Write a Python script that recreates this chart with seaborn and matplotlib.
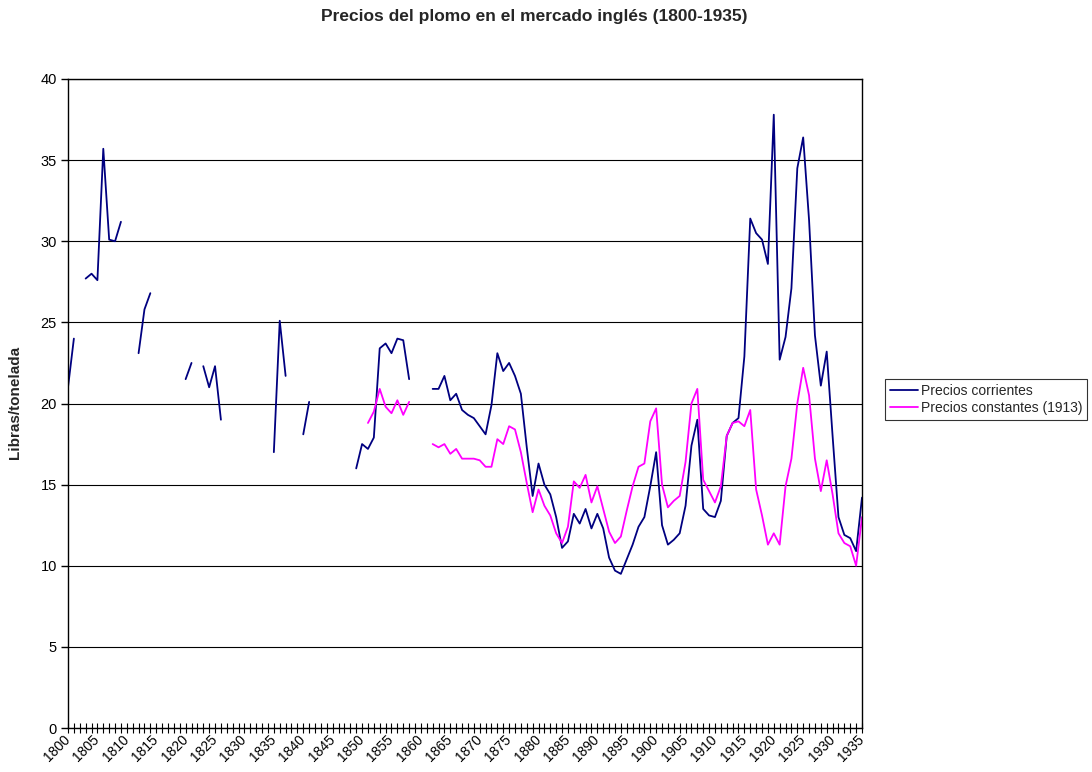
import numpy as np
import pandas as pd
import matplotlib
matplotlib.use('Agg')
import matplotlib.pyplot as plt
import seaborn as sns

#^ Data ============================================================================================>
nan = np.nan
years = list(range(1800, 1936))

# precios corrientes, 1800-1935 (libras/tonelada)
corrientes = [
    21.0, 24.0, nan, 27.7, 28.0, 27.6, 35.7, 30.1, 30.0, 31.2,          # 1800-1809
    nan, nan, 23.1, 25.8, 26.8, nan, nan, nan, nan, nan,                # 1810-1819
    21.5, 22.5, nan, 22.3, 21.0, 22.3, 19.0, nan, nan, nan,             # 1820-1829
    nan, nan, nan, nan, nan, 17.0, 25.1, 21.7, nan, nan,                # 1830-1839
    18.1, 20.1, nan, nan, nan, nan, nan, nan, nan, 16.0,                # 1840-1849
    17.5, 17.2, 17.9, 23.4, 23.7, 23.1, 24.0, 23.9, 21.5, nan,          # 1850-1859
    nan, nan, 20.9, 20.9, 21.7, 20.2, 20.6, 19.6, 19.3, 19.1,           # 1860-1869
    18.6, 18.1, 19.9, 23.1, 22.0, 22.5, 21.7, 20.6, 17.3, 14.3,         # 1870-1879
    16.3, 15.0, 14.4, 13.0, 11.1, 11.5, 13.2, 12.6, 13.5, 12.3,         # 1880-1889
    13.2, 12.3, 10.5, 9.7, 9.5, 10.4, 11.3, 12.4, 13.0, 14.9,           # 1890-1899
    17.0, 12.5, 11.3, 11.6, 12.0, 13.7, 17.4, 19.0, 13.5, 13.1,         # 1900-1909
    13.0, 14.0, 18.0, 18.8, 19.1, 22.9, 31.4, 30.5, 30.1, 28.6,         # 1910-1919
    37.8, 22.7, 24.1, 27.1, 34.5, 36.4, 31.3, 24.2, 21.1, 23.2,         # 1920-1929
    18.0, 13.0, 11.9, 11.7, 10.9, 14.2,                                 # 1930-1935
]

# precios constantes (1913)
constantes = [nan] * 51 + [
    18.8, 19.5, 20.9, 19.8, 19.4, 20.2, 19.3, 20.1, nan,                # 1851-1859
    nan, nan, 17.5, 17.3, 17.5, 16.9, 17.2, 16.6, 16.6, 16.6,           # 1860-1869
    16.5, 16.1, 16.1, 17.8, 17.5, 18.6, 18.4, 17.0, 15.1, 13.3,         # 1870-1879
    14.7, 13.7, 13.1, 12.0, 11.4, 12.4, 15.2, 14.8, 15.6, 13.9,         # 1880-1889
    14.9, 13.5, 12.1, 11.4, 11.8, 13.4, 14.9, 16.1, 16.3, 18.9,         # 1890-1899
    19.7, 15.0, 13.6, 14.0, 14.3, 16.4, 20.0, 20.9, 15.3, 14.6,         # 1900-1909
    13.9, 14.9, 18.0, 18.8, 18.9, 18.6, 19.6, 14.7, 13.1, 11.3,         # 1910-1919
    12.0, 11.3, 14.9, 16.6, 20.0, 22.2, 20.5, 16.6, 14.6, 16.5,         # 1920-1929
    14.4, 12.0, 11.4, 11.2, 10.0, 13.0,                                 # 1930-1935
]

series_names = ['Precios corrientes', 'Precios constantes (1913)']
series_colors = ['#000080', '#FF00FF']


#^ Functions =======================================================================================>
def to_segments(values: list) -> pd.DataFrame:
    """ Splits a series with gaps into contiguous pieces, so lines break at missing years;
    """
    df = pd.DataFrame({'year': years, 'price': values})
    df['seg'] = df['price'].isna().cumsum()
    return df.dropna()


#^ Plot ============================================================================================>
sns.set_theme(style='white')
plt.rcParams['font.family'] = ['Liberation Sans', 'DejaVu Sans']

fig, ax = plt.subplots(figsize=(10.92, 7.72), dpi=100)
fig.subplots_adjust(left=68/1092, right=862/1092, top=1-79/772, bottom=1-728/772)

for vals, col in zip([corrientes, constantes], series_colors):
    sns.lineplot(data=to_segments(vals), x='year', y='price', units='seg', estimator=None,
                 color=col, linewidth=1.3, legend=False, ax=ax)

ax.set_xlim(1800, 1935)
ax.set_ylim(0, 40)
ax.set_yticks(range(0, 41, 5))
ax.set_xticks(range(1800, 1936, 5))
ax.set_xticks(range(1800, 1936), minor=True)
ax.yaxis.grid(True, color='black', linewidth=0.8)
ax.set_axisbelow(True)

for s in ax.spines.values():
    s.set_color('black')
    s.set_linewidth(1.0)

ax.tick_params(axis='y', which='major', direction='out', length=5, width=1, color='black',
               labelsize=10.5, labelcolor='black', pad=3, left=True)
ax.tick_params(axis='x', which='both', direction='inout', length=7, width=0.8, color='black',
               labelsize=10, labelcolor='black', bottom=True)
plt.setp(ax.get_xticklabels(), rotation=45, ha='right', va='center', rotation_mode='anchor')

ax.set_xlabel('')
ax.set_ylabel('')
fig.text(15/1092, 1-402/772, 'Libras/tonelada', rotation=90, ha='center', va='center',
         fontsize=11, fontweight='bold')
fig.text(534/1092, 1-17/772, 'Precios del plomo en el mercado inglés (1800-1935)',
         ha='center', va='center', fontsize=12.5, fontweight='bold')

handles = [plt.Line2D([], [], color=c, linewidth=1.3) for c in series_colors]
leg = fig.legend(handles, series_names, loc='upper left', bbox_to_anchor=(885/1092, 1-379/772),
                 fontsize=10, frameon=True, fancybox=False, handlelength=2.0, handletextpad=0.25,
                 borderpad=0.35, labelspacing=0.25, borderaxespad=0)
leg.get_frame().set_edgecolor('black')
leg.get_frame().set_linewidth(0.8)

plt.savefig('out.png', dpi=100)
